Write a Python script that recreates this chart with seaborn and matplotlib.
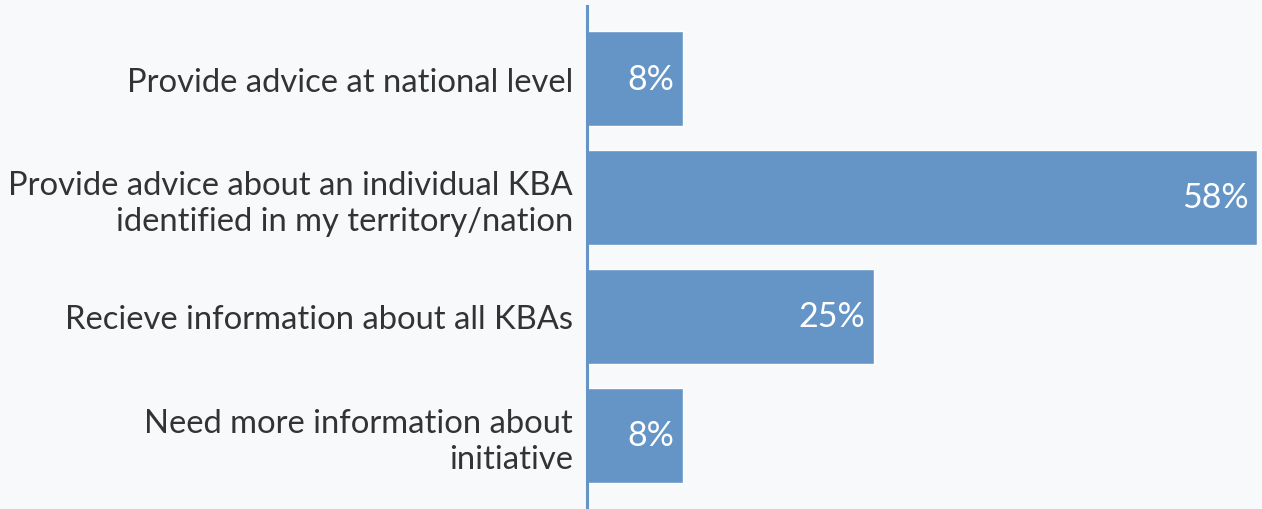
import matplotlib
matplotlib.use("Agg")
import matplotlib.pyplot as plt
import seaborn as sns
import pandas as pd

# survey answers (12 respondents)
categories = [
    "Provide advice at national level",
    "Provide advice about an individual KBA\nidentified in my territory/nation",
    "Recieve information about all KBAs",
    "Need more information about\ninitiative",
]
percent = [100 / 12, 700 / 12, 300 / 12, 100 / 12]
value_labels = ["8%", "58%", "25%", "8%"]

bar_color = "#6495c6"
bg = "#f8f9fb"

sns.set_theme(style="white")
plt.rcParams["font.family"] = ["Lato", "DejaVu Sans"]

df = pd.DataFrame({"category": categories, "percent": percent})

fig = plt.figure(figsize=(12.62, 5.10), dpi=100, facecolor=bg)
ax = fig.add_axes([587 / 1262, 0, 670 / 1262, 503 / 510])
ax.set_facecolor(bg)

sns.barplot(data=df, y="category", x="percent", orient="h", color=bar_color,
            saturation=1, width=0.8, ax=ax)

ax.set_xlim(0, max(percent))
ax.set_ylim(3.62, -0.61)
ax.set_xlabel("")
ax.set_ylabel("")
ax.set_xticks([])
ax.tick_params(axis="y", length=0, pad=10, labelsize=23.6, labelcolor="#333333")
for t in ax.get_yticklabels():
    t.set_linespacing(1.25)

for s in ["top", "right", "bottom"]:
    ax.spines[s].set_visible(False)
ax.spines["left"].set_color(bar_color)
ax.spines["left"].set_linewidth(2.2)

for i, (v, lab) in enumerate(zip(percent, value_labels)):
    ax.text(v - 0.75, i, lab, ha="right", va="center", color="white", fontsize=24.5)

fig.savefig("out.png", dpi=100, facecolor=bg)
